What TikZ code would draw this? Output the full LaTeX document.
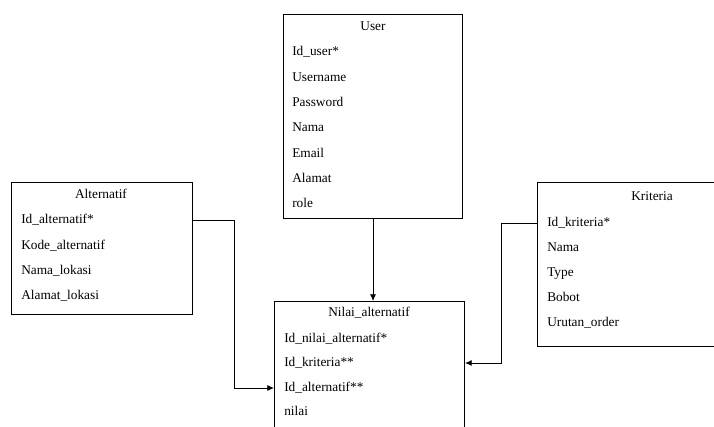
\documentclass[tikz,border=0pt]{standalone}
\usepackage{fontspec}
\setmainfont{Liberation Serif}
\usetikzlibrary{arrows.meta}
\tikzset{
	tabel/.style={draw,line width=0.8pt,anchor=north west,inner sep=0pt},
	judul/.style={inner sep=0pt,text height=1.6ex,text depth=.4ex},
	atribut/.style={anchor=west,inner sep=0pt,text height=1.6ex,text depth=.4ex},
	panah/.style={line width=0.6pt,-{Latex[length=5pt,width=4.5pt]}}
}

\begin{document}
\begin{tikzpicture}[x=0.75pt,y=-0.75pt,font=\fontsize{10}{12}\selectfont]
					\useasboundingbox (0,0) rectangle (714,427);
					\clip (0,0) rectangle (714,427);
					%TABEL USER
					\node[tabel,minimum width=179*0.75pt,minimum height=204*0.75pt] (user) at (283,14) {};
					\node[judul] (userjudul) at (373,27) {User};
					\node[atribut] (iduser) at (292,52) {Id\_user*};
					\node[atribut] (username) at (292,78) {Username};
					\node[atribut] (password) at (292,103) {Password};
					\node[atribut] (namauser) at (292,128) {Nama};
					\node[atribut] (email) at (292,154) {Email};
					\node[atribut] (alamat) at (292,179) {Alamat};
					\node[atribut] (role) at (292,204) {role};
					%TABEL ALTERNATIF
					\node[tabel,minimum width=181*0.75pt,minimum height=132*0.75pt] (alt) at (11,182) {};
					\node[judul] (altjudul) at (101,195) {Alternatif};
					\node[atribut] (idalt) at (21,220) {Id\_alternatif*};
					\node[atribut] (kodealt) at (21,246) {Kode\_alternatif};
					\node[atribut] (namalokasi) at (21,271) {Nama\_lokasi};
					\node[atribut] (alamatlokasi) at (21,296) {Alamat\_lokasi};
					%TABEL KRITERIA
					\node[tabel,minimum width=230*0.75pt,minimum height=164*0.75pt] (krit) at (537,182) {};
					\node[judul] (kritjudul) at (652,197) {Kriteria};
					\node[atribut] (idkrit) at (547,223) {Id\_kriteria*};
					\node[atribut] (namakrit) at (547,248) {Nama};
					\node[atribut] (type) at (547,273) {Type};
					\node[atribut] (bobot) at (547,298) {Bobot};
					\node[atribut] (urutan) at (547,323) {Urutan\_order};
					%TABEL NILAI ALTERNATIF
					\node[tabel,minimum width=190*0.75pt,minimum height=150*0.75pt] (nilai) at (274,301) {};
					\node[judul] (nilaijudul) at (369,313) {Nilai\_alternatif};
					\node[atribut] (idnilai) at (284,339) {Id\_nilai\_alternatif*};
					\node[atribut] (idkritn) at (284,363) {Id\_kriteria**};
					\node[atribut] (idaltn) at (284,388) {Id\_alternatif**};
					\node[atribut] (nilaiv) at (284,412) {nilai};
					%RELASI
					\draw[panah] (user.south) -- (user.south |- nilai.north);
					\draw[panah] (alt.east |- idalt) -- ++(41,0) |- (nilai.west |- idaltn);
					\draw[panah] (krit.west |- idkrit) -- ++(-36,0) |- (nilai.east |- idkritn);
	  \end{tikzpicture}
\end{document}
